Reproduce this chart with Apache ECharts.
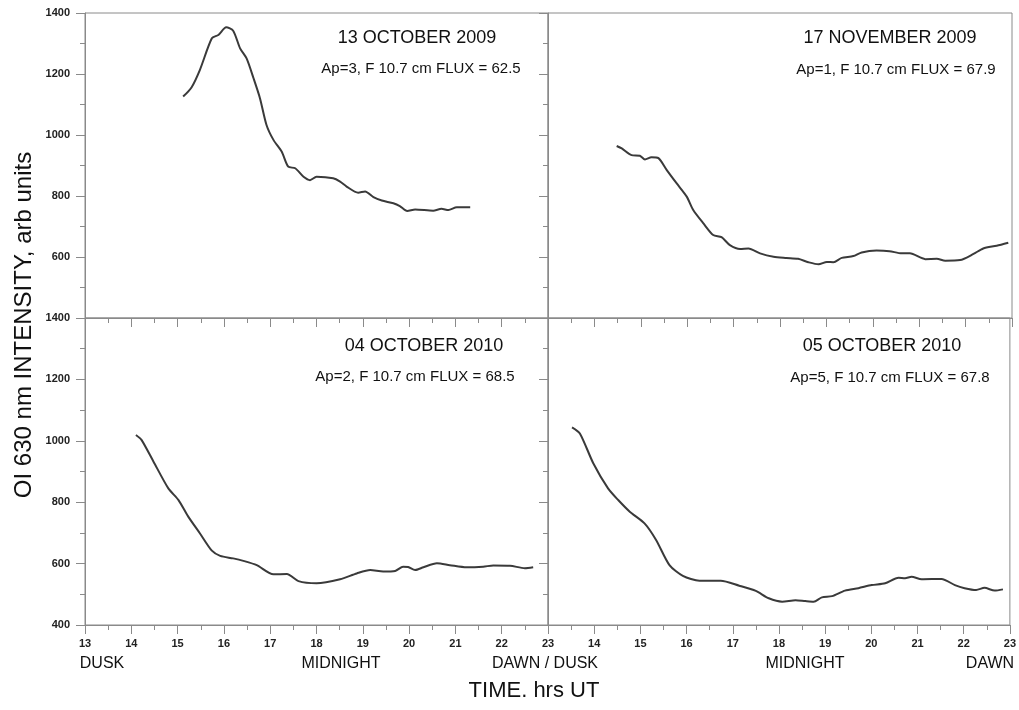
<!DOCTYPE html>
<html>
<head>
<meta charset="utf-8">
<script src="https://cdn.jsdelivr.net/npm/echarts@6/dist/echarts.min.js"></script>
<style>html,body{margin:0;padding:0;background:#fff;}#c{width:1019px;height:710px;}</style>
</head>
<body>
<div id="c"></div>
<script>
// ---- Data (hour UT, intensity arb units) ----
const oct13_2009 = [[15.12,1126],[15.30,1156],[15.48,1213],[15.74,1317],[15.88,1328],[16.05,1353],[16.20,1342],[16.35,1284],[16.49,1251],[16.64,1186],[16.78,1120],[16.92,1033],[17.07,984],[17.25,945],[17.39,896],[17.54,891],[17.72,863],[17.86,852],[18.00,863],[18.36,858],[18.51,847],[18.65,831],[18.90,811],[19.05,815],[19.23,796],[19.41,785],[19.66,776],[19.80,767],[19.96,751],[20.13,756],[20.52,752],[20.70,758],[20.85,754],[21.03,763],[21.32,763]];
const nov17_2009 = [[14.48,964],[14.59,956],[14.80,934],[14.98,932],[15.09,920],[15.23,927],[15.38,924],[15.56,885],[15.77,842],[15.99,798],[16.13,754],[16.35,710],[16.56,672],[16.74,665],[16.92,639],[17.14,626],[17.32,628],[17.57,612],[17.86,601],[18.14,597],[18.39,594],[18.61,583],[18.83,576],[19.01,584],[19.15,583],[19.33,597],[19.58,603],[19.76,615],[20.08,621],[20.36,619],[20.62,612],[20.80,612],[21.13,593],[21.38,594],[21.56,588],[21.88,590],[22.17,610],[22.38,628],[22.67,637],[22.92,647]];
const oct04_2010 = [[14.10,1019],[14.22,1003],[14.48,932],[14.80,845],[15.02,807],[15.23,753],[15.48,699],[15.74,642],[15.92,625],[16.20,617],[16.42,609],[16.71,595],[17.07,565],[17.36,566],[17.61,543],[18.00,536],[18.51,549],[18.87,568],[19.16,579],[19.44,574],[19.70,576],[19.87,590],[19.98,589],[20.13,579],[20.31,588],[20.60,601],[20.88,595],[21.24,588],[21.60,590],[21.82,594],[22.18,593],[22.50,585],[22.68,588]];
const oct05_2010 = [[13.52,1044],[13.69,1024],[13.98,927],[14.30,845],[14.52,807],[14.77,769],[15.09,731],[15.34,677],[15.63,595],[15.92,560],[16.28,544],[16.74,544],[17.14,528],[17.50,511],[17.78,487],[18.07,476],[18.36,481],[18.57,478],[18.75,476],[18.93,490],[19.15,494],[19.43,512],[19.72,520],[20.01,530],[20.30,536],[20.59,554],[20.73,552],[20.87,557],[21.09,549],[21.52,550],[21.81,530],[22.02,520],[22.27,514],[22.45,521],[22.67,512],[22.85,516]];

const panelTitles = ['13 OCTOBER 2009','17 NOVEMBER 2009','04 OCTOBER 2010','05 OCTOBER 2010'];
const panelSubtitles = ['Ap=3, F 10.7 cm FLUX = 62.5','Ap=1, F 10.7 cm FLUX = 67.9','Ap=2, F 10.7 cm FLUX = 68.5','Ap=5, F 10.7 cm FLUX = 67.8'];
const timeLabels = ['DUSK','MIDNIGHT','DAWN / DUSK','MIDNIGHT','DAWN'];
const yTitle = 'OI 630 nm INTENSITY, arb units';
const xTitle = 'TIME. hrs UT';

const FONT = 'Arial, "Liberation Sans", sans-serif';
const AX = '#8a8a8a';
const LINE = '#3a3a3a';

const grids = [
  {left:85, top:13, width:463, height:305},
  {left:548, top:13, width:464, height:305},
  {left:85, top:318, width:463, height:307},
  {left:548, top:318, width:464, height:307}
].map(g => Object.assign(g, {show:true, borderColor:AX, borderWidth:1, containLabel:false}));

function xAxis(i){
  const bottom = i >= 2;
  return {
    type:'value', gridIndex:i, min:13, max:23, interval:1,
    axisLine:{show:true, lineStyle:{color:AX, width:1}},
    axisTick:{show:true, length:9, lineStyle:{color:AX}},
    minorTick:{show:true, splitNumber:2, length:5, lineStyle:{color:AX}},
    splitLine:{show:false}, minorSplitLine:{show:false},
    axisLabel:{show:bottom, margin:13, fontSize:11, fontWeight:'bold', color:'#222', fontFamily:FONT,
      formatter: v => (i===3 && v===13) ? '' : String(v)}
  };
}
function yAxis(i){
  const left = (i%2===0);
  return {
    type:'value', gridIndex:i, min:400, max:1400, interval:200, position:'left',
    axisLine:{show:true, lineStyle:{color:AX, width:1}},
    axisTick:{show:true, length:9, lineStyle:{color:AX}},
    minorTick:{show:true, splitNumber:2, length:5, lineStyle:{color:AX}},
    splitLine:{show:false}, minorSplitLine:{show:false},
    axisLabel:{show:left, margin:15, fontSize:11, fontWeight:'bold', color:'#222', fontFamily:FONT,
      formatter: v => (i===0 && v===400) ? '' : String(v)}
  };
}
const datasets = [oct13_2009, nov17_2009, oct04_2010, oct05_2010];
const series = datasets.map((d,i)=>({
  type:'line', xAxisIndex:i, yAxisIndex:i, data:d, showSymbol:false, smooth:0.25,
  lineStyle:{color:LINE, width:2}, animation:false, silent:true
}));

const titlePos = [[417,38],[890,38],[424,346],[882,346]];
const subPos = [[421,69],[896,70],[415,377],[890,378]];
const timePos = [[102,664],[341,664],[545,664],[805,664],[990,664]];

const graphic = [];
panelTitles.forEach((t,i)=>graphic.push({type:'text', x:titlePos[i][0], y:titlePos[i][1], silent:true,
  style:{text:t, font:'18px '+FONT, fill:'#111', textAlign:'center', textVerticalAlign:'middle'}}));
panelSubtitles.forEach((t,i)=>graphic.push({type:'text', x:subPos[i][0], y:subPos[i][1], silent:true,
  style:{text:t, font:'15px '+FONT, fill:'#111', textAlign:'center', textVerticalAlign:'middle'}}));
timeLabels.forEach((t,i)=>graphic.push({type:'text', x:timePos[i][0], y:timePos[i][1], silent:true,
  style:{text:t, font:'16px '+FONT, fill:'#111', textAlign:'center', textVerticalAlign:'middle'}}));
graphic.push({type:'text', x:534, y:691, silent:true,
  style:{text:xTitle, font:'22px '+FONT, fill:'#111', textAlign:'center', textVerticalAlign:'middle'}});
graphic.push({type:'text', x:24, y:325, rotation:Math.PI/2, silent:true,
  style:{text:yTitle, font:'24px '+FONT, fill:'#111', textAlign:'center', textVerticalAlign:'middle'}});

const chart = echarts.init(document.getElementById('c'), null, {renderer:'canvas'});
chart.setOption({
  animation:false,
  backgroundColor:'#fff',
  grid:grids,
  xAxis:[0,1,2,3].map(xAxis),
  yAxis:[0,1,2,3].map(yAxis),
  series:series,
  graphic:graphic
});
</script>
</body>
</html>
